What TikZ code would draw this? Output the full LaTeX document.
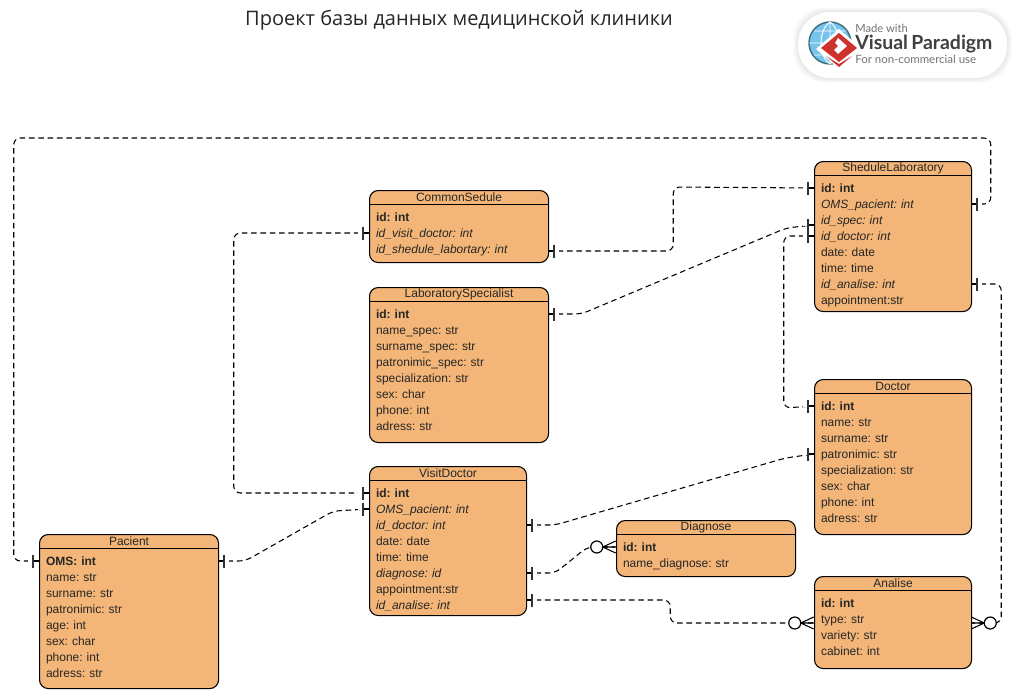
\documentclass[tikz,border=0pt]{standalone}
\usepackage{fontspec}
\setmainfont{Liberation Sans}
\newfontfamily\titlefont{Open Sans}
\newfontfamily\logofont{Lato}
\usepackage{xcolor}
\usetikzlibrary{calc}

\definecolor{entityfill}{RGB}{244,182,120}
\definecolor{logoblue}{RGB}{118,196,236}
\definecolor{logoedge}{RGB}{62,112,128}
\definecolor{logored}{RGB}{205,50,45}

\tikzset{
    entitybox/.style={draw,fill=entityfill,rounded corners=6.5pt,line width=0.8pt,anchor=north west,inner sep=0pt},
    entitytitle/.style={font=\fontsize{9}{10}\selectfont,inner sep=0pt,text=black!85},
    entityrow/.style={font=\fontsize{9}{10}\selectfont\frenchspacing,align=left,inner xsep=5.25pt,inner ysep=0pt,text height=7.5pt,text depth=1.5pt,text=black!85},
    relline/.style={dash pattern=on 4.2pt off 2.8pt,line width=0.8pt,rounded corners=5pt},
    pics/barmark/.style={code={
        \draw[white,line width=1.6pt] (7,0) -- (11,0);
        \draw[line width=0.8pt] (0,0) -- (6,0);
        \draw[line width=1.2pt,black!80] (6,-6.5) -- (6,6.5);
    }},
    pics/manymark/.style={code={
        \draw[line width=0.8pt] (0,-6) -- (13,0) -- (0,6) (0,0) -- (13,0);
        \draw[line width=0.9pt,fill=white] (19,0) circle (6*0.75pt);
    }},
}

% name, left, top, width, height, title, rows
\newcommand{\entity}[7]{
    \pgfmathsetmacro{\entw}{#4*0.75}
    \node[entitybox,minimum width=\entw pt,minimum height=#5*0.75pt] (#1) at (#2,#3) {};
    \draw[line width=0.7pt] ($(#1.north west)+(0,14)$) -- ($(#1.north east)+(0,14)$);
    \node[entitytitle] (#1-t) at ($(#1.north)+(0,7)$) {#6};
    \foreach \rowtext [count=\rownum] in {#7} {
        \node[entityrow,text width={\entw pt-10.5pt}] (#1-\rownum) at ({#2+#4/2},{#3+11+16*\rownum}) {\rowtext};
    }
}

\begin{document}
\begin{tikzpicture}[x=0.75pt,y=-0.75pt]
    \useasboundingbox (0,0) rectangle (1017,690);
    % Title
    \node[font=\titlefont\fontsize{15}{16}\selectfont,text=black!85] (title) at (459,20.5) {Проект базы данных медицинской клиники};
    % Logo
    \foreach \grow/\shade in {5/4,4/6,3/8,2/10,1/12} {
        \fill[black!\shade,rounded corners=24pt,opacity=0.35] (798-\grow,12-\grow) rectangle (1007+\grow,78+\grow);
    }
    \fill[white,rounded corners=24pt] (798,12) rectangle (1007,78);
    \draw[logoedge,line width=1.1pt,fill=logoblue] (830,43) circle (21*0.75pt);
    \draw[white,line width=0.7pt] (809,43) -- (851,43) (830,22) -- (830,64) (830,22) .. controls (818,30) and (818,56) .. (830,64) (830,22) .. controls (842,30) and (842,56) .. (830,64) (814,31) -- (846,31) (814,55) -- (846,55);
    \fill[white] (839,29) -- (862,49) -- (839,69) -- (816,49) -- cycle;
    \fill[logored] (839,33) -- (857,48) -- (839,62) -- (821,48) -- cycle;
    \fill[logored] (826,56) -- (839,67) -- (852,56) -- (839,64) -- cycle;
    \fill[white] (838,38) -- (847,46) -- (838,54) -- (834,50) -- (838,46) -- (835,43) -- cycle;
    \node[font=\logofont\fontsize{8.4}{10}\selectfont,text=black!55,anchor=west,inner sep=0pt] (made) at (855,28.5) {Made with};
    \node[font=\logofont\bfseries\fontsize{14.6}{16}\selectfont,text=black!75,anchor=west,inner sep=0pt] (brand) at (855,44) {Visual\,Paradigm};
    \node[font=\logofont\fontsize{8.6}{10}\selectfont,text=black!55,anchor=west,inner sep=0pt] (use) at (855,59.5) {For non-commercial use};
    % Entities
    \entity{sl}{814}{161}{157}{150}{SheduleLaboratory}{\textbf{id: int},\textit{OMS\_pacient: int},\textit{id\_spec: int},\textit{id\_doctor: int},date: date,time: time,\textit{id\_analise: int},appointment:str}
    \entity{cs}{369}{190}{179}{72}{CommonSedule}{\textbf{id: int},\textit{id\_visit\_doctor: int},\textit{id\_shedule\_labortary: int}}
    \entity{ls}{369}{287}{179}{155}{LaboratorySpecialist}{\textbf{id: int},name\_spec: str,surname\_spec: str,patronimic\_spec: str,specialization: str,sex: char,phone: int,adress: str}
    \entity{dr}{814}{379}{157}{155}{Doctor}{\textbf{id: int},name: str,surname: str,patronimic: str,specialization: str,sex: char,phone: int,adress: str}
    \entity{vd}{369}{466}{157}{149}{VisitDoctor}{\textbf{id: int},\textit{OMS\_pacient: int},\textit{id\_doctor: int},date: date,time: time,\textit{diagnose: id},appointment:str,\textit{id\_analise: int}}
    \entity{dg}{616}{520}{179}{56}{Diagnose}{\textbf{id: int},name\_diagnose: str}
    \entity{an}{814}{576}{157}{92}{Analise}{\textbf{id: int},type: str,variety: str,cabinet: int}
    \entity{pc}{39}{534}{179}{154}{Pacient}{\textbf{OMS: int},name: str,surname: str,patronimic: str,age: int,sex: char,phone: int,adress: str}
    % Connector ends that sit between rows
    \coordinate (csOut) at ([yshift=-1.5pt]cs-3.east);
    \coordinate (slSpec) at ([yshift=-3.75pt]sl-3.west);
    \coordinate (vdLab) at ([yshift=3.75pt]vd-8.east);
    \coordinate (anIn) at ([yshift=-3pt]an-2.west);
    \coordinate (anOut) at ([yshift=-3pt]an-2.east);
    % Connectors
    \draw[relline] (pc-1.west) -- ++(-25,0) -- ++(0,-423) -- ++(977,0) -- ++(0,66) -- (sl-2.east);
    \draw[relline] (pc-1.east) -- ++(27,0) -- ++(88,-50) -- (vd-2.west);
    \draw[relline] (cs-2.west) -- ++(-135,0) -- ++(0,260) -- (vd-1.west);
    \draw[relline] (csOut) -- ++(125,0) -- ++(0,-64) -- (sl-1.west);
    \draw[relline] (ls-1.east) -- ++(33,0) -- ++(205,-86) -- (slSpec);
    \draw[relline] (sl-4.west) -- ++(-30,0) -- ++(0,172) -- (dr-1.west);
    \draw[relline] (sl-7.east) -- ++(30,0) -- ++(0,339) -- ++(-12,0) -- (anOut);
    \draw[relline] (vd-3.east) -- ++(29,0) -- ++(230,-67) -- (dr-4.west);
    \draw[relline] (vd-6.east) -- ++(29,0) -- ++(32,-26) -- (dg-1.west);
    \draw[relline] (vdLab) -- ++(144,0) -- ++(0,23) -- (anIn);
    % One ends
    \pic[xscale=-1] (m1) at (pc-1.west) {barmark};
    \pic (m2) at (pc-1.east) {barmark};
    \pic[xscale=-1] (m3) at (vd-2.west) {barmark};
    \pic[xscale=-1] (m4) at (cs-2.west) {barmark};
    \pic[xscale=-1] (m5) at (vd-1.west) {barmark};
    \pic (m6) at (csOut) {barmark};
    \pic[xscale=-1] (m7) at (sl-1.west) {barmark};
    \pic (m8) at (ls-1.east) {barmark};
    \pic[xscale=-1] (m9) at (slSpec) {barmark};
    \pic[xscale=-1] (m10) at (sl-4.west) {barmark};
    \pic[xscale=-1] (m11) at (dr-1.west) {barmark};
    \pic (m12) at (sl-2.east) {barmark};
    \pic (m13) at (sl-7.east) {barmark};
    \pic (m14) at (vd-3.east) {barmark};
    \pic[xscale=-1] (m15) at (dr-4.west) {barmark};
    \pic (m16) at (vd-6.east) {barmark};
    \pic (m17) at (vdLab) {barmark};
    % Many ends
    \pic[xscale=-1] (n1) at (dg-1.west) {manymark};
    \pic[xscale=-1] (n2) at (anIn) {manymark};
    \pic (n3) at (anOut) {manymark};
\end{tikzpicture}
\end{document}
